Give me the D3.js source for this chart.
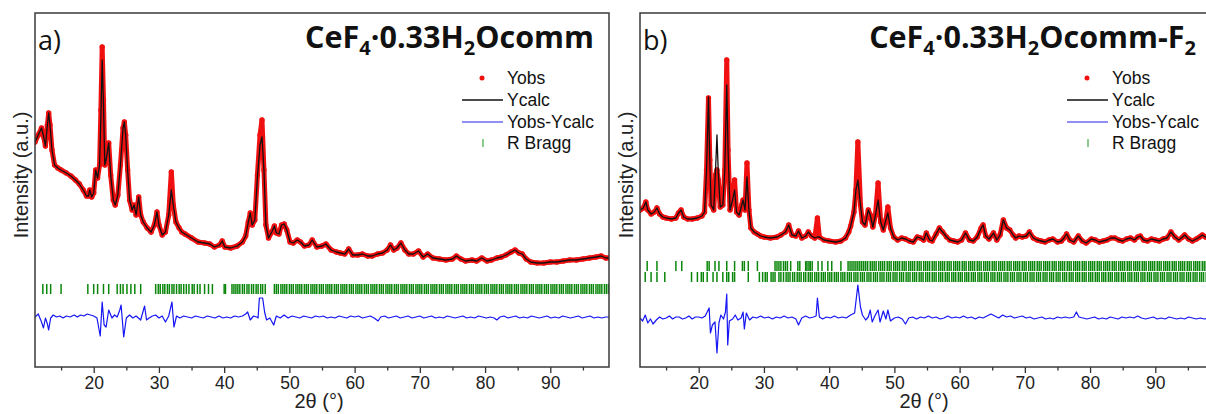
<!DOCTYPE html>
<html><head><meta charset="utf-8">
<script src="https://cdn.jsdelivr.net/npm/d3@7"></script>
<style>body{margin:0;background:#fff}svg{display:block}</style>
</head><body>
<svg id="chart" width="1206" height="414"></svg>
<script>
// ---------- Panel a data ----------
const twoThetaA = [11.0,11.5,12.0,12.3,12.6,12.9,13.1,13.3,13.6,14.0,14.5,15.0,15.8,16.5,17.2,17.8,18.4,18.9,19.2,19.4,19.7,20.0,20.3,20.6,20.9,21.1,21.3,21.5,21.7,21.9,22.3,22.6,23.0,23.3,23.7,24.1,24.5,24.7,24.9,25.2,25.5,25.9,26.2,26.5,26.9,27.2,27.6,28.2,28.8,29.3,29.7,30.0,30.5,31.0,31.5,31.9,32.2,32.6,33.1,33.5,34.0,35.0,36.0,37.0,37.8,38.5,39.3,39.7,40.1,41.0,42.0,42.8,43.3,43.7,44.0,44.3,44.7,45.1,45.5,45.8,46.1,46.4,46.8,47.3,47.7,48.0,48.4,48.8,49.2,49.6,50.1,50.6,51.2,51.7,52.3,53.0,53.5,54.2,55.0,55.6,56.4,57.2,57.8,58.5,59.1,59.7,60.5,61.2,62.0,62.7,63.5,64.3,65.0,65.5,66.0,66.5,67.1,67.7,68.3,69.0,69.8,70.5,71.2,72.0,73.0,74.0,75.0,75.6,76.3,77.0,78.0,78.7,79.5,80.3,81.0,81.8,82.5,83.2,84.0,84.6,85.2,85.7,86.3,87.0,88.0,89.0,90.0,91.0,92.0,93.0,94.0,95.0,96.0,97.0,97.8,98.5,99.0];
const yobsA = [225,232,239,231,221,242,254,242,217,202,199,197,194,191,187,183,177,171,171,177,170,174,197,189,202,257,320,267,202,207,224,192,167,162,172,202,239,245,232,197,167,157,162,152,170,152,145,139,135,142,155,142,132,135,152,195,162,145,139,135,133,129,125,124,123,120,122,126,120,119,121,125,131,145,154,142,147,192,232,247,197,142,129,135,141,134,133,142,143,137,125,124,127,125,121,122,127,120,121,123,117,115,114,113,118,112,112,113,111,111,113,114,117,122,117,119,124,117,113,113,116,110,113,109,108,107,108,111,108,106,107,106,109,106,107,109,110,112,115,117,114,113,108,105,104,104,105,105,106,107,107,108,109,110,111,109,109];
const ycalcA = [225,232,239,231,221,242,254,242,217,202,199,197,194,191,187,183,177,171,171,177,170,174,197,189,202,250,307,262,202,207,224,192,167,162,172,202,239,245,232,197,167,157,162,152,170,152,145,139,135,142,155,142,132,135,152,177,162,145,139,135,133,129,125,124,123,120,122,126,120,119,121,125,131,145,154,142,147,190,222,230,197,142,129,135,141,134,133,142,143,137,125,124,127,125,121,122,127,120,121,123,117,115,114,113,118,112,112,113,111,111,113,114,117,122,117,119,124,117,113,113,116,110,113,109,108,107,108,111,108,106,107,106,109,106,107,109,110,112,115,117,114,113,108,105,104,104,105,105,106,107,107,108,109,110,111,109,109];
const diffThetaA = [
  11.0,11.5,12.0,12.3,12.6,12.9,13.1,13.4,13.8,14.3,
  14.8,15.3,15.8,16.4,17.0,17.5,18.0,18.5,19.0,19.5,
  20.0,20.5,21.0,21.3,21.6,21.9,22.3,22.8,23.2,23.6,
  24.0,24.2,24.6,25.0,25.5,26.0,26.5,27.2,27.8,28.1,
  28.5,29.0,29.5,30.0,30.5,31.0,31.5,32.0,32.3,32.7,
  33.2,33.8,34.4,35.0,35.6,36.2,36.8,37.4,38.0,38.6,
  39.2,39.8,40.4,41.0,41.6,42.2,42.8,43.3,43.6,44.0,
  44.5,45.0,45.2,45.4,45.9,46.2,46.5,47.0,47.6,48.0,
  48.6,49.2,49.8,50.4,51.0,51.6,52.2,52.8,53.4,54.0,
  54.6,55.2,55.8,56.4,57.0,57.6,58.2,58.8,59.4,60.0,
  60.6,61.2,61.8,62.4,63.0,63.6,64.0,64.6,65.2,65.8,
  66.4,67.0,67.6,68.2,68.8,69.4,70.0,70.6,71.2,71.8,
  72.4,73.0,73.6,74.2,74.8,75.4,76.0,76.6,77.2,77.8,
  78.4,79.0,79.6,80.2,80.8,81.4,81.8,82.3,82.9,83.5,
  84.1,84.7,85.3,85.9,86.5,87.1,87.7,88.3,88.9,89.5,
  90.1,90.7,91.3,91.9,92.5,93.1,93.7,94.3,94.9,95.5,
  96.1,96.7,97.3,97.9,98.5,99.0];
const diffA = [
  50,53,45,39,49,43,37,49,52,50,
  51,49,51,50,52,50,52,51,53,52,
  51,49,31,65,42,40,57,49,52,50,
  57,62,30,49,52,49,51,47,61,47,
  49,51,52,49,51,45,51,65,40,51,
  49,51,50,49,51,50,49,51,50,49,
  51,49,50,49,51,50,51,53,55,47,
  51,50,49,69,69,55,47,49,42,51,
  49,52,49,51,50,49,51,50,49,51,
  50,51,49,50,49,51,50,49,51,50,
  51,49,50,51,49,46,50,51,49,50,
  51,49,50,51,49,50,51,49,50,51,
  49,50,49,51,50,49,50,51,49,50,
  49,51,50,49,50,49,47,50,51,49,
  50,51,49,50,49,51,50,49,50,51,
  49,50,49,51,50,49,50,51,49,50,
  51,49,50,49,50,50];
const braggA = [12.2,12.8,13.4,15.0,19.1,20.0,20.6,21.5,22.3,23.6,24.1,24.5,25.1,25.7,26.3,27.2,29.5,29.9,30.2,30.6,30.9,31.3,31.6,32.0,32.3,32.7,33.1,33.4,33.8,34.2,34.6,35.1,35.4,35.9,36.3,37.0,37.6,38.2,40.0,40.2,41.2,41.5,41.8,42.1,42.4,42.8,43.1,43.5,43.8,44.2,44.5,44.9,45.2,45.6,45.9,46.3,47.7,48.0,48.3,48.7,49.0,49.3,49.6,50.0,50.3,50.6,51.0,51.3,51.6,51.9,52.3,52.6,52.9,53.3,53.6,53.9,54.2,54.6,54.9,55.2,55.6,55.9,56.2,56.5,56.9,57.2,57.5,57.9,58.2,58.5,58.8,59.2,59.5,59.8,60.2,60.5,60.8,61.1,61.5,61.8,62.1,62.5,62.8,63.1,63.4,63.8,64.1,64.4,64.8,65.1,65.4,65.7,66.1,66.4,66.7,67.1,67.4,67.7,68.0,68.4,68.7,69.0,69.4,69.7,70.0,70.3,70.7,71.0,71.3,71.7,72.0,72.3,72.6,73.0,73.3,73.6,74.0,74.3,74.6,74.9,75.3,75.6,75.9,76.3,76.6,76.9,77.2,77.6,77.9,78.2,78.6,78.9,79.2,79.5,79.9,80.2,80.5,80.9,81.2,81.5,81.8,82.2,82.5,82.8,83.2,83.5,83.8,84.1,84.5,84.8,85.1,85.5,85.8,86.1,86.4,86.8,87.1,87.4,87.8,88.1,88.4,88.7,89.1,89.4,89.7,90.1,90.4,90.7,91.0,91.4,91.7,92.0,92.4,92.7,93.0,93.3,93.7,94.0,94.3,94.7,95.0,95.3,95.6,96.0,96.3,96.6,97.0,97.3,97.6,97.9,98.3,98.6,98.9];

// ---------- Panel b data ----------
const twoThetaB = [11.0,11.5,11.9,12.2,12.7,13.2,13.6,14.0,14.5,15.0,15.8,16.5,16.9,17.3,17.7,18.3,19.0,19.8,20.5,20.9,21.2,21.5,21.7,21.9,22.3,22.6,22.8,23.0,23.3,23.7,24.0,24.3,24.5,24.8,25.2,25.5,25.8,26.2,26.6,26.8,27.1,27.4,27.7,28.0,28.5,29.0,29.5,30.0,31.0,32.0,32.6,33.3,33.8,34.3,34.9,35.3,35.8,36.4,36.8,37.3,37.8,38.2,38.5,39.2,40.0,41.0,41.8,42.5,43.0,43.3,43.8,44.1,44.4,44.8,45.1,45.5,46.0,46.3,46.7,47.1,47.5,47.9,48.3,48.7,49.0,49.4,49.9,50.5,51.1,51.7,52.3,52.9,53.5,54.0,54.5,54.9,55.4,55.8,56.4,56.9,57.4,58.0,58.5,59.1,59.7,60.3,60.9,61.5,62.1,62.7,63.3,63.6,64.0,64.5,65.0,65.2,65.7,66.2,66.7,67.2,67.7,68.2,68.6,69.1,69.6,70.2,70.7,71.3,71.9,72.5,73.1,73.7,74.3,75.0,75.6,76.0,76.4,76.9,77.5,78.2,78.8,79.4,80.2,80.8,81.4,82.0,82.6,83.2,83.8,84.4,85.0,85.6,86.2,86.8,87.3,87.7,88.2,88.8,89.4,90.0,90.6,91.2,91.8,92.4,93.0,93.6,94.2,94.5,95.1,95.7,96.3,96.8,97.2,97.7,98.2,99.0];
const yobsB = [157,159,165,157,153,155,159,153,150,149,148,149,154,157,150,148,148,149,151,155,197,269,207,162,157,192,197,187,160,162,197,307,217,157,167,187,155,152,162,167,157,204,157,139,135,133,131,130,129,130,132,135,142,132,131,136,129,131,135,131,129,149,130,127,126,125,126,129,135,141,155,177,225,162,145,142,157,152,140,152,184,145,137,147,160,139,130,127,129,128,126,125,130,129,127,134,127,126,133,139,135,130,127,126,125,127,134,127,126,130,139,142,131,128,132,134,127,132,147,139,137,132,129,131,130,131,135,129,127,126,125,127,128,125,126,129,133,127,125,131,126,124,128,127,125,126,127,129,129,127,126,128,129,127,130,131,127,126,128,127,126,128,129,135,130,127,130,132,128,126,128,130,132,130,131,132];
const ycalcB = [157,159,165,157,153,155,159,153,150,149,148,149,154,157,150,148,148,149,151,155,197,270,207,162,157,200,232,195,160,162,197,282,217,157,167,177,155,152,162,167,157,190,157,139,135,133,131,130,129,130,132,135,142,132,131,136,129,131,135,131,129,130,130,127,126,125,126,129,135,141,155,177,187,162,145,142,157,152,140,152,167,145,137,147,154,139,130,127,129,128,126,125,130,129,127,134,127,126,133,139,135,130,127,126,125,127,134,127,126,130,139,142,131,128,132,134,127,132,147,139,137,132,129,131,130,131,135,129,127,126,125,127,128,125,126,129,133,127,125,131,126,124,128,127,125,126,127,129,129,127,126,128,129,127,130,131,127,126,128,127,126,128,129,135,130,127,130,132,128,126,128,130,132,130,131,132];
const diffThetaB = [
  11.0,11.4,11.8,12.2,12.6,13.0,13.5,14.0,14.5,15.0,
  15.5,16.0,16.5,17.0,17.5,18.0,18.5,19.0,19.5,20.0,
  20.5,21.0,21.3,21.6,21.8,22.1,22.5,22.8,23.1,23.4,
  23.8,24.1,24.3,24.45,24.7,25.2,25.6,26.0,26.5,26.8,
  27.0,27.3,27.8,28.3,28.9,29.5,30.1,30.7,31.3,31.9,
  32.5,33.1,33.7,34.3,34.9,35.3,35.8,36.4,37.0,37.6,
  38.0,38.2,38.5,39.0,39.6,40.2,40.8,41.4,42.0,42.6,
  43.3,43.9,44.4,44.8,45.1,45.6,46.0,46.3,46.6,47.0,
  47.5,47.8,48.3,48.7,49.0,49.4,50.0,50.6,51.2,51.7,
  52.2,52.8,53.4,54.0,54.6,55.2,55.8,56.4,57.0,57.6,
  58.2,58.8,59.4,60.0,60.6,61.2,61.8,62.4,63.0,63.6,
  64.2,64.8,65.4,66.0,66.6,67.2,67.8,68.4,69.0,69.6,
  70.2,70.8,71.4,72.0,72.6,73.2,73.8,74.4,75.0,75.6,
  76.2,76.8,77.5,77.9,78.3,78.9,79.5,80.1,80.7,81.3,
  81.9,82.5,83.1,83.7,84.3,84.9,85.5,86.1,86.7,87.3,
  87.9,88.5,89.1,89.7,90.3,90.9,91.5,92.1,92.7,93.3,
  93.9,94.5,95.1,95.7,96.3,96.9,97.5,98.1,98.7,99.0];
const diffB = [
  49,46,52,44,48,43,47,50,48,49,
  51,48,50,50,48,49,51,48,50,50,
  49,51,55,59,34,42,45,14,44,52,
  48,55,73,22,46,48,52,47,49,55,
  38,54,47,50,49,51,49,50,48,50,
  49,51,49,50,48,42,49,51,49,50,
  51,69,50,48,50,49,51,49,50,49,
  52,54,82,60,52,47,50,57,45,51,
  57,45,56,48,57,46,49,50,48,43,
  49,50,48,50,49,51,49,50,48,49,
  51,49,50,49,51,49,50,48,50,49,
  51,53,51,49,52,50,51,49,50,51,
  49,50,48,49,50,48,49,48,50,49,
  50,49,50,55,50,49,48,49,50,48,
  49,48,50,49,48,50,49,50,49,51,
  49,48,49,50,48,49,48,50,49,48,
  49,48,50,49,48,49,48,49,48,49];
const braggB1 = [12.1,13.6,16.5,17.4,21.3,21.6,22.5,23.1,24.3,25.5,26.7,27.0,27.6,29.0,31.7,32.0,32.3,32.6,33.0,33.3,33.6,34.1,35.2,35.5,36.4,36.6,36.9,37.1,37.4,38.3,38.9,39.8,40.4,41.8,42.9,43.2,43.5,43.8,44.1,44.4,44.7,45.0,45.3,45.6,45.9,46.3,46.6,46.9,47.2,47.6,47.9,48.2,48.5,48.9,49.2,49.5,49.9,50.2,50.5,50.8,51.2,51.5,51.8,52.2,52.5,52.8,53.1,53.5,53.8,54.1,54.5,54.8,55.1,55.4,55.8,56.1,56.4,56.8,57.1,57.4,57.7,58.1,58.4,58.7,59.1,59.4,59.7,60.0,60.4,60.7,61.0,61.4,61.7,62.0,62.3,62.7,63.0,63.3,63.7,64.0,64.3,64.6,65.0,65.3,65.6,66.0,66.3,66.6,66.9,67.3,67.6,67.9,68.3,68.6,68.9,69.2,69.6,69.9,70.2,70.6,70.9,71.2,71.5,71.9,72.2,72.5,72.9,73.2,73.5,73.8,74.2,74.5,74.8,75.2,75.5,75.8,76.1,76.5,76.8,77.1,77.5,77.8,78.1,78.4,78.8,79.1,79.4,79.8,80.1,80.4,80.7,81.1,81.4,81.7,82.1,82.4,82.7,83.0,83.4,83.7,84.0,84.4,84.7,85.0,85.3,85.7,86.0,86.3,86.7,87.0,87.3,87.6,88.0,88.3,88.6,89.0,89.3,89.6,89.9,90.3,90.6,90.9,91.3,91.6,91.9,92.2,92.6,92.9,93.2,93.6,93.9,94.2,94.5,94.9,95.2,95.5,95.9,96.2,96.5,96.8,97.2,97.5,97.8,98.2,98.5,98.8];
const braggB2 = [11.8,12.7,13.6,14.8,18.9,19.8,20.4,20.7,21.3,22.2,22.8,23.7,24.3,24.6,25.2,25.5,27.6,29.3,29.8,30.2,30.5,31.1,31.4,31.7,32.3,32.6,33.0,33.4,33.7,34.0,34.4,34.7,35.1,35.4,35.7,36.1,36.4,36.8,37.1,37.4,37.8,38.1,38.4,38.8,39.1,39.4,39.8,40.1,40.4,40.8,41.1,41.4,41.8,42.1,42.4,42.8,43.1,43.4,43.8,44.1,44.4,44.8,45.1,45.4,45.8,46.1,46.4,46.8,47.1,47.4,47.8,48.1,48.4,48.8,49.1,49.4,49.8,50.1,50.4,50.8,51.1,51.4,51.8,52.1,52.4,52.8,53.1,53.4,53.8,54.1,54.4,54.8,55.1,55.4,55.8,56.1,56.4,56.8,57.1,57.4,57.8,58.1,58.4,58.8,59.1,59.4,59.8,60.1,60.4,60.8,61.1,61.4,61.8,62.1,62.4,62.8,63.1,63.4,63.8,64.1,64.4,64.8,65.1,65.4,65.8,66.1,66.4,66.8,67.1,67.4,67.8,68.1,68.4,68.8,69.1,69.4,69.8,70.1,70.4,70.8,71.1,71.4,71.8,72.1,72.4,72.8,73.1,73.4,73.8,74.1,74.4,74.8,75.1,75.4,75.8,76.1,76.4,76.8,77.1,77.4,77.8,78.1,78.4,78.8,79.1,79.4,79.8,80.1,80.4,80.8,81.1,81.4,81.8,82.1,82.4,82.8,83.1,83.4,83.8,84.1,84.4,84.8,85.1,85.4,85.8,86.1,86.4,86.8,87.1,87.4,87.8,88.1,88.4,88.8,89.1,89.4,89.8,90.1,90.4,90.8,91.1,91.4,91.8,92.1,92.4,92.8,93.1,93.4,93.8,94.1,94.4,94.8,95.1,95.4,95.8,96.1,96.4,96.8,97.1,97.4,97.8,98.1,98.4,98.8];

// ---------- Axis / legend text ----------
const xDomain = [11, 99];
const majorTicks = [20,30,40,50,60,70,80,90];
const minorTicks = [15,25,35,45,55,65,75,85,95];
const legendLabels = ["Yobs","Ycalc","Yobs-Ycalc","R Bragg"];
const panelLetters = ["a)","b)"];
const yLabel = "Intensity (a.u.)";
const xLabel = "2\u03B8 (\u00B0)";

// ---------- Drawing ----------
const svg = d3.select("#chart");
const TOP = 13, BOTTOM = 367;
const yScale = d3.scaleLinear().domain([0, 354]).range([BOTTOM, TOP]);

const panels = [
  {id:"a", x0:35, x1:609, theta:twoThetaA, obs:yobsA, calc:ycalcA, dTheta:diffThetaA, diff:diffA,
   bragg:[{pos:braggA, hi:83, lo:73}], letter:panelLetters[0],
   title:[["CeF",0],["4",1],["\u00B70.33H",0],["2",1],["Ocomm",0]], titleRight:594},
  {id:"b", x0:640, x1:1214, theta:twoThetaB, obs:yobsB, calc:ycalcB, dTheta:diffThetaB, diff:diffB,
   bragg:[{pos:braggB1, hi:106, lo:96},{pos:braggB2, hi:95, lo:85}], letter:panelLetters[1],
   title:[["CeF",0],["4",1],["\u00B70.33H",0],["2",1],["Ocomm-F",0],["2",1]], titleRight:1196}
];

panels.forEach(p => {
  const x = d3.scaleLinear().domain(xDomain).range([p.x0, p.x1]);
  const g = svg.append("g");
  const clipId = "clip-" + p.id;
  svg.append("clipPath").attr("id", clipId).append("rect")
    .attr("x", p.x0).attr("y", TOP).attr("width", p.x1 - p.x0).attr("height", BOTTOM - TOP);
  const plot = g.append("g").attr("clip-path", `url(#${clipId})`);

  // Bragg ticks
  p.bragg.forEach(row => {
    plot.append("g").selectAll("line").data(row.pos).join("line")
      .attr("x1", d => x(d)).attr("x2", d => x(d))
      .attr("y1", yScale(row.hi)).attr("y2", yScale(row.lo))
      .attr("stroke", "#0a870a").attr("stroke-width", 1.5);
  });

  const obsPts = p.theta.map((t,i) => [t, p.obs[i]]);
  const calcPts = p.theta.map((t,i) => [t, p.calc[i]]);
  const diffPts = p.dTheta.map((t,i) => [t, p.diff[i]]);
  const line = d3.line().x(d => x(d[0])).y(d => yScale(d[1]));

  // Yobs as thick red band of dots
  plot.append("path").attr("d", line(obsPts)).attr("fill","none")
    .attr("stroke","#f01010").attr("stroke-width",5).attr("stroke-linejoin","round").attr("stroke-linecap","round");
  plot.append("g").selectAll("circle").data(obsPts).join("circle")
    .attr("cx", d => x(d[0])).attr("cy", d => yScale(d[1])).attr("r", 2.7).attr("fill","#f01010");
  // Ycalc
  plot.append("path").attr("d", line(calcPts)).attr("fill","none")
    .attr("stroke","#111").attr("stroke-width",1.3).attr("stroke-linejoin","round");
  // Difference
  plot.append("path").attr("d", line(diffPts)).attr("fill","none")
    .attr("stroke","#1515f5").attr("stroke-width",1.2).attr("stroke-linejoin","round");

  // Axis ticks
  const axG = g.append("g").attr("transform", `translate(0,${BOTTOM})`);
  axG.call(d3.axisBottom(x).tickValues(majorTicks).tickSize(6).tickPadding(4).tickFormat(d3.format("d")));
  axG.append("g").call(d3.axisBottom(x).tickValues(minorTicks).tickSize(3.5).tickFormat(""));
  axG.selectAll(".domain").remove();
  axG.selectAll(".tick line").attr("stroke","#333").attr("stroke-width",1.3);
  axG.selectAll(".tick text").attr("font-family","'Liberation Sans', Arial, sans-serif")
    .attr("font-size","17.5px").attr("fill","#222");

  // Frame
  g.append("rect").attr("x", p.x0).attr("y", TOP).attr("width", p.x1 - p.x0).attr("height", BOTTOM - TOP)
    .attr("fill","none").attr("stroke","#3a3a3a").attr("stroke-width",1.5);

  // Panel letter
  g.append("text").attr("x", p.x0 + 3).attr("y", 50).text(p.letter)
    .attr("font-family","'Open Sans', sans-serif").attr("font-size","27px").attr("fill","#111");

  // Title with subscripts
  const tt = g.append("text").attr("x", p.titleRight).attr("y", 48).attr("text-anchor","end")
    .attr("font-family","'Open Sans', sans-serif").attr("font-weight","bold").attr("font-size","30.5px").attr("fill","#111");
  let prevSub = 0;
  p.title.forEach(([s, sub]) => {
    const dy = sub ? 7 : (prevSub ? -7 : 0);
    const ts = tt.append("tspan").text(s).attr("dy", dy);
    if (sub) ts.attr("font-size", "20px");
    prevSub = sub;
  });

  // Legend
  const lx = p.x0 + 447, ly = [78, 100, 122, 143];
  const lg = g.append("g");
  lg.append("circle").attr("cx", lx).attr("cy", ly[0]).attr("r", 2.5).attr("fill","#f01010");
  lg.append("line").attr("x1", lx-20).attr("x2", lx+21).attr("y1", ly[1]).attr("y2", ly[1]).attr("stroke","#111").attr("stroke-width",1.3);
  lg.append("line").attr("x1", lx-20).attr("x2", lx+21).attr("y1", ly[2]).attr("y2", ly[2]).attr("stroke","#6a6af5").attr("stroke-width",1.5);
  lg.append("line").attr("x1", lx+1).attr("x2", lx+1).attr("y1", ly[3]-4).attr("y2", ly[3]+4).attr("stroke","#3fa83f").attr("stroke-width",1.2);
  lg.selectAll("text").data(legendLabels).join("text")
    .attr("x", lx + 25).attr("y", (d,i) => ly[i] + 6).text(d => d)
    .attr("font-family","'Liberation Sans', Arial, sans-serif").attr("font-size","17.5px").attr("fill","#111");

  // Axis labels
  g.append("text").attr("transform", `translate(${p.x0 - 7},175) rotate(-90)`).attr("text-anchor","middle")
    .text(yLabel).attr("font-family","'Liberation Sans', Arial, sans-serif").attr("font-size","20px").attr("fill","#222");
  g.append("text").attr("x", (p.x0 + p.x1)/2 - 3).attr("y", 408).attr("text-anchor","middle")
    .text(xLabel).attr("font-family","'Liberation Sans', Arial, sans-serif").attr("font-size","20px").attr("fill","#222");
});
</script>
</body></html>
